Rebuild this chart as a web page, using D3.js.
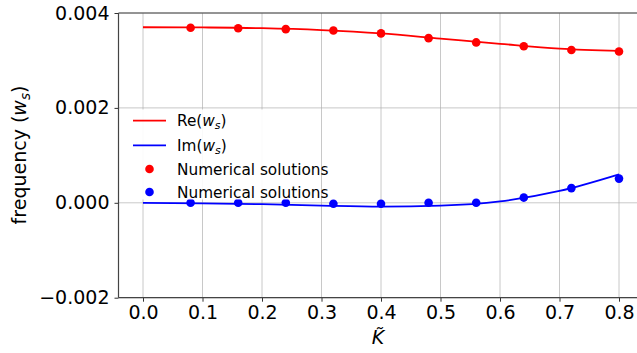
<!DOCTYPE html>
<html>
<head>
<meta charset="utf-8">
<script src="https://cdn.jsdelivr.net/npm/d3@7"></script>
<style>
  body { margin: 0; background: #fff; }
  svg text { font-family: "DejaVu Sans", sans-serif; fill: #000; }
</style>
</head>
<body>
<div id="chart"></div>
<script>
// data
var lineK   = [0.0, 0.1, 0.2, 0.3, 0.4, 0.5, 0.6, 0.7, 0.8];
var lineRe  = [0.00370, 0.003695, 0.00368, 0.00364, 0.00357, 0.00346, 0.00335, 0.00325, 0.00320];
var lineIm  = [0.0, -0.00001, -0.00003, -0.00006, -0.00008, -0.00006, 0.00003, 0.00025, 0.00060];
var pointK  = [0.08, 0.16, 0.24, 0.32, 0.40, 0.48, 0.56, 0.64, 0.72, 0.80];
var pointRe = [0.00369, 0.00368, 0.00366, 0.00363, 0.00357, 0.00347, 0.00338, 0.00330, 0.00322, 0.00319];
var pointIm = [0.0, 0.0, 0.0, -0.00002, -0.00002, 0.0, 0.0, 0.00011, 0.00031, 0.00051];
var xTicks  = [0.0, 0.1, 0.2, 0.3, 0.4, 0.5, 0.6, 0.7, 0.8];
var yTicks  = [-0.002, 0.0, 0.002, 0.004];

var W = 637, H = 353;
var plotLeft = 118.5, plotTop = 13, plotBottom = 297.7;

var x = d3.scaleLinear().domain([-0.04, 0.84]).range([119.2, 642.8]);
var y = d3.scaleLinear().domain([-0.002, 0.004]).range([plotBottom, plotTop]);

var svg = d3.select("#chart").append("svg")
    .attr("width", W)
    .attr("height", H);

// grid
svg.append("g").selectAll("line").data(xTicks).enter().append("line")
    .attr("x1", d => x(d)).attr("x2", d => x(d))
    .attr("y1", plotTop).attr("y2", plotBottom)
    .attr("stroke", "#b0b0b0").attr("stroke-opacity", 0.7).attr("stroke-width", 1);
svg.append("g").selectAll("line").data(yTicks).enter().append("line")
    .attr("x1", plotLeft).attr("x2", W)
    .attr("y1", d => y(d)).attr("y2", d => y(d))
    .attr("stroke", "#b0b0b0").attr("stroke-opacity", 0.7).attr("stroke-width", 1);

// axes
var xAxis = d3.axisBottom(x).tickValues(xTicks).tickFormat(d3.format(".1f")).tickSizeInner(4).tickSizeOuter(0).tickPadding(4);
var yAxis = d3.axisLeft(y).tickValues(yTicks).tickFormat(d3.format(".3f")).tickSizeInner(4).tickSizeOuter(0).tickPadding(5);

var gx = svg.append("g").attr("transform", "translate(0," + plotBottom + ")").call(xAxis);
var gy = svg.append("g").attr("transform", "translate(" + plotLeft + ",0)").call(yAxis);
[gx, gy].forEach(function (g) {
    g.select(".domain").remove();
    g.selectAll(".tick line").attr("stroke", "#333");
    g.selectAll(".tick text").style("font-size", "19px").attr("fill", "#000");
});

// spines: left, bottom, top (right is cropped off)
svg.append("line").attr("x1", plotLeft).attr("x2", plotLeft).attr("y1", plotTop).attr("y2", plotBottom)
    .attr("stroke", "#444").attr("stroke-width", 1.2);
svg.append("line").attr("x1", plotLeft).attr("x2", W).attr("y1", plotBottom).attr("y2", plotBottom)
    .attr("stroke", "#444").attr("stroke-width", 1.2);
svg.append("line").attr("x1", plotLeft).attr("x2", W).attr("y1", plotTop).attr("y2", plotTop)
    .attr("stroke", "#444").attr("stroke-width", 1.2);

// curves
var line = d3.line().curve(d3.curveMonotoneX)
    .x(d => x(d[0])).y(d => y(d[1]));

svg.append("path").datum(d3.zip(lineK, lineRe))
    .attr("d", line).attr("fill", "none").attr("stroke", "#ff0000").attr("stroke-width", 1.8);
svg.append("path").datum(d3.zip(lineK, lineIm))
    .attr("d", line).attr("fill", "none").attr("stroke", "#0000ff").attr("stroke-width", 1.8);

svg.append("g").selectAll("circle").data(d3.zip(pointK, pointRe)).enter().append("circle")
    .attr("cx", d => x(d[0])).attr("cy", d => y(d[1])).attr("r", 4.3).attr("fill", "#ff0000");
svg.append("g").selectAll("circle").data(d3.zip(pointK, pointIm)).enter().append("circle")
    .attr("cx", d => x(d[0])).attr("cy", d => y(d[1])).attr("r", 4.3).attr("fill", "#0000ff");

// legend (white box, no visible frame, hides grid behind it)
var lg = svg.append("g");
lg.append("rect").attr("x", 124).attr("y", 109.5).attr("width", 196).attr("height", 90)
    .attr("fill", "#fff").attr("fill-opacity", 0.9);

var entries = [
    { label: "Re", color: "#ff0000", type: "line", yy: 120.7 },
    { label: "Im", color: "#0000ff", type: "line", yy: 145.3 },
    { label: "Numerical solutions", color: "#ff0000", type: "dot", yy: 169 },
    { label: "Numerical solutions", color: "#0000ff", type: "dot", yy: 192 }
];
entries.forEach(function (e) {
    if (e.type === "line") {
        lg.append("line").attr("x1", 133).attr("x2", 166).attr("y1", e.yy).attr("y2", e.yy)
            .attr("stroke", e.color).attr("stroke-width", 1.8);
    } else {
        lg.append("circle").attr("cx", 149.5).attr("cy", e.yy).attr("r", 4.3).attr("fill", e.color);
    }
    var t = lg.append("text").attr("x", 177).attr("y", e.yy + 5.5).style("font-size", "15.3px");
    if (e.type === "line") {
        t.append("tspan").text(e.label + "(");
        t.append("tspan").style("font-style", "italic").text("w");
        t.append("tspan").style("font-style", "italic").style("font-size", "11px").attr("dy", 3).text("s");
        t.append("tspan").attr("dy", -3).text(")");
    } else {
        t.text(e.label);
    }
});

// axis labels
var yl = svg.append("text")
    .attr("transform", "translate(26,155) rotate(-90)")
    .attr("text-anchor", "middle").style("font-size", "19px");
yl.append("tspan").text("frequency (");
yl.append("tspan").style("font-style", "italic").text("w");
yl.append("tspan").style("font-style", "italic").style("font-size", "13.5px").attr("dy", 4).text("s");
yl.append("tspan").attr("dy", -4).text(")");

svg.append("text").attr("x", x(0.4) - 3).attr("y", 344)
    .attr("text-anchor", "middle").style("font-size", "19px").style("font-style", "italic")
    .text("K\u0303");
</script>
</body>
</html>
